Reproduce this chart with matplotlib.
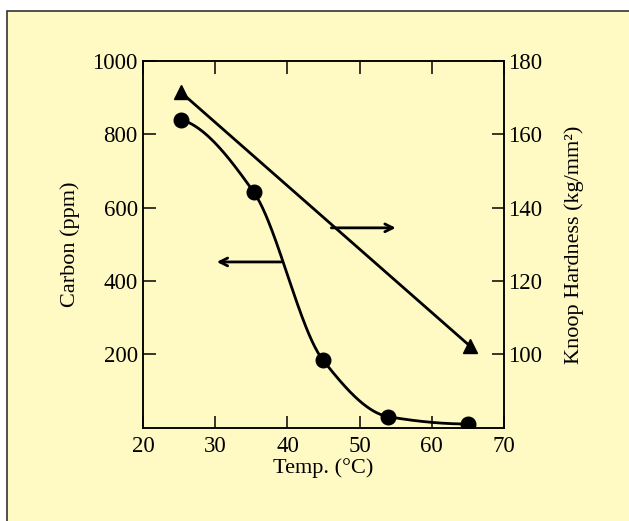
import numpy as np
import matplotlib
matplotlib.use("Agg")
import matplotlib.pyplot as plt
from matplotlib.patches import Rectangle

# data
temp_carbon = [25.2, 35.3, 44.9, 54.0, 65.1]
carbon_ppm = [840, 643, 185, 30, 10]
temp_hard = [25.2, 65.3]
hardness = [171.5, 102.3]

x_ticks = [20, 30, 40, 50, 60, 70]
left_ticks = [200, 400, 600, 800, 1000]
right_ticks = [100, 120, 140, 160, 180]

BG = "#fff9c4"
FONT = "Liberation Serif"
plt.rcParams["font.family"] = [FONT, "DejaVu Serif"]


def pchip(x, y, xs):
    # monotone cubic curve through the points (for drawing the smooth line)
    x = np.asarray(x, float)
    y = np.asarray(y, float)
    h = np.diff(x)
    d = np.diff(y) / h
    m = np.zeros_like(y)
    for k in range(1, len(x) - 1):
        if d[k - 1] * d[k] > 0:
            w1 = 2 * h[k] + h[k - 1]
            w2 = h[k] + 2 * h[k - 1]
            m[k] = (w1 + w2) / (w1 / d[k - 1] + w2 / d[k])
    m[0] = ((2 * h[0] + h[1]) * d[0] - h[0] * d[1]) / (h[0] + h[1])
    m[-1] = ((2 * h[-1] + h[-2]) * d[-1] - h[-1] * d[-2]) / (h[-1] + h[-2])
    if m[0] * d[0] <= 0:
        m[0] = 0
    if m[-1] * d[-1] <= 0:
        m[-1] = 0
    idx = np.clip(np.searchsorted(x, xs) - 1, 0, len(x) - 2)
    t = (xs - x[idx]) / h[idx]
    h00 = 2 * t**3 - 3 * t**2 + 1
    h10 = t**3 - 2 * t**2 + t
    h01 = -2 * t**3 + 3 * t**2
    h11 = t**3 - t**2
    return h00 * y[idx] + h10 * h[idx] * m[idx] + h01 * y[idx + 1] + h11 * h[idx] * m[idx + 1]


fig = plt.figure(figsize=(6.29, 5.21), dpi=100)
fig.patch.set_facecolor("white")
fig.patches.append(Rectangle((0.0111, -0.1), 1.2, 1.0789, transform=fig.transFigure,
                             facecolor=BG, edgecolor="#333333", linewidth=1.2, zorder=-10))

ax = fig.add_axes([0.2279, 0.1791, 0.5729, 0.7038])
ax.set_facecolor(BG)
ax2 = ax.twinx()

# carbon curve
xs = np.linspace(temp_carbon[0], temp_carbon[-1], 300)
ax.plot(xs, pchip(temp_carbon, carbon_ppm, xs), color="black", lw=2)
ax.plot(temp_carbon, carbon_ppm, "o", color="black", ms=10.5)

# hardness line
ax2.plot(temp_hard, hardness, color="black", lw=2)
ax2.plot(temp_hard, hardness, "^", color="black", ms=10)

# arrows pointing to the axis for each curve
ax.annotate("", xy=(29.8, 452), xytext=(39.5, 452),
            arrowprops=dict(arrowstyle="->", color="black", lw=2, mutation_scale=14))
ax2.annotate("", xy=(55.4, 134.5), xytext=(45.7, 134.5),
             arrowprops=dict(arrowstyle="->", color="black", lw=2, mutation_scale=14))

ax.set_xlim(20, 70)
ax.set_ylim(0, 1000)
ax2.set_ylim(80, 180)
ax.set_xticks(x_ticks)
ax.set_yticks(left_ticks)
ax2.set_yticks(right_ticks)

ax.tick_params(axis="x", direction="in", top=True, length=9, width=1.1, pad=6, labelsize=16.5)
ax.tick_params(axis="y", direction="in", length=9, width=1.1, pad=4, labelsize=16.5)
ax2.tick_params(axis="y", direction="in", length=9, width=1.1, pad=3, labelsize=16.5)
for a in (ax, ax2):
    for s in a.spines.values():
        s.set_linewidth(1.1)

ax.set_xlabel("Temp. (°C)", fontsize=16, labelpad=1)
ax.set_ylabel("Carbon (ppm)", fontsize=16, labelpad=9)
ax2.set_ylabel("Knoop Hardness (kg/mm²)", fontsize=16, labelpad=16)

fig.savefig("out.png", dpi=100, facecolor=fig.get_facecolor())
